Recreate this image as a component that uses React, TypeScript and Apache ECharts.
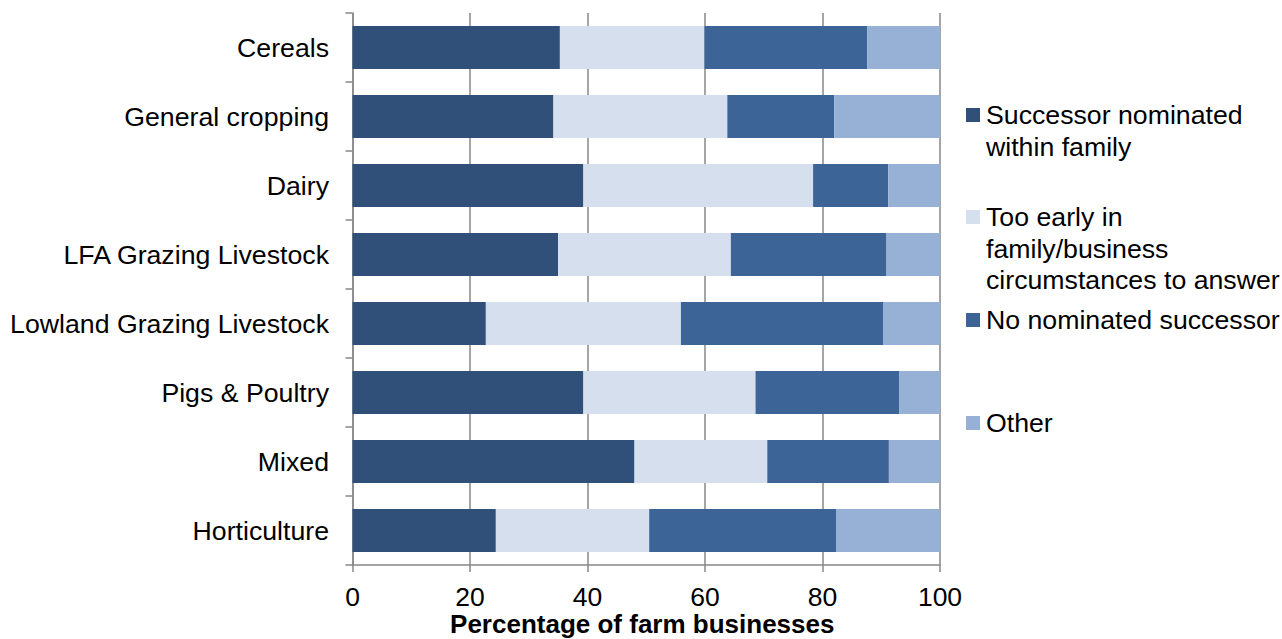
import React, { useEffect, useRef } from "react";
import * as echarts from "echarts";

// Farm types, listed top to bottom
const farmTypes = [
  "Cereals",
  "General cropping",
  "Dairy",
  "LFA Grazing Livestock",
  "Lowland Grazing Livestock",
  "Pigs & Poultry",
  "Mixed",
  "Horticulture",
];

// Succession status shares (% of farm businesses), one value per farm type
const successorInFamily = [35.3, 34.2, 39.3, 35.0, 22.7, 39.3, 48.0, 24.4];
const tooEarly = [24.6, 29.6, 39.1, 29.4, 33.2, 29.3, 22.6, 26.1];
const noSuccessor = [27.7, 18.2, 12.8, 26.5, 34.4, 24.5, 20.7, 31.8];
const other = [12.4, 18.0, 8.8, 9.1, 9.7, 6.9, 8.7, 17.7];

const seriesNames = [
  "Successor nominated within family",
  "Too early in family/business circumstances to answer",
  "No nominated successor",
  "Other",
];
const legendLabels = [
  "Successor nominated\nwithin family",
  "Too early in\nfamily/business\ncircumstances to answer",
  "No nominated successor",
  "Other",
];
const seriesValues = [successorInFamily, tooEarly, noSuccessor, other];
const colors = ["#30507A", "#D6DFED", "#3C6496", "#96B1D5"];

const xTicks = [0, 20, 40, 60, 80, 100];
const axisTitle = "Percentage of farm businesses";

const FONT = "'Liberation Sans', Arial, Helvetica, sans-serif";
const AXIS_GREY = "#878787";

// Legend layout: first-line centre of each entry
const legendFirstLineY = [115, 217, 320, 423];
const LEGEND_LINE_H = 31.5;

export default function App() {
  const ref = useRef<HTMLDivElement>(null);

  useEffect(() => {
    if (!ref.current) return;
    const chart = echarts.init(ref.current, undefined, { renderer: "svg" });

    const legendGraphics: any[] = [];
    legendLabels.forEach((label, i) => {
      const cy = legendFirstLineY[i];
      legendGraphics.push({
        type: "rect",
        shape: { x: 966, y: cy - 7, width: 14, height: 14 },
        style: { fill: colors[i] },
        silent: true,
      });
      legendGraphics.push({
        type: "text",
        x: 986,
        y: cy - LEGEND_LINE_H / 2,
        style: {
          text: label,
          fill: "#000",
          font: `26.7px ${FONT}`,
          lineHeight: LEGEND_LINE_H,
          verticalAlign: "top",
          align: "left",
        },
        silent: true,
      });
    });

    chart.setOption({
      animation: false,
      backgroundColor: "#fff",
      textStyle: { fontFamily: FONT },
      grid: {
        left: 352.5,
        width: 587.5,
        top: 13,
        height: 552,
        containLabel: false,
        outerBoundsMode: "none",
      },
      xAxis: {
        type: "value",
        min: xTicks[0],
        max: xTicks[xTicks.length - 1],
        interval: xTicks[1] - xTicks[0],
        name: axisTitle,
        nameLocation: "middle",
        nameGap: 46,
        nameMoveOverlap: false,
        nameTextStyle: {
          fontSize: 26,
          fontWeight: "bold",
          color: "#000",
          fontFamily: FONT,
          padding: [0, 8, 0, 0],
        },
        axisLine: { show: true, lineStyle: { color: AXIS_GREY, width: 1.5 } },
        axisTick: {
          show: true,
          inside: false,
          length: 7,
          lineStyle: { color: AXIS_GREY, width: 1.5 },
        },
        axisLabel: {
          fontSize: 26.5,
          color: "#000",
          margin: 18,
          fontFamily: FONT,
        },
        splitLine: {
          show: true,
          lineStyle: { color: AXIS_GREY, width: 1.5 },
        },
      },
      yAxis: {
        type: "category",
        data: farmTypes,
        inverse: true,
        axisLine: { show: true, lineStyle: { color: AXIS_GREY, width: 1.5 } },
        axisTick: {
          show: true,
          inside: false,
          length: 7,
          lineStyle: { color: AXIS_GREY, width: 1.5 },
        },
        axisLabel: {
          fontSize: 26.7,
          color: "#000",
          margin: 23.5,
          fontFamily: FONT,
        },
        splitLine: { show: false },
      },
      series: seriesNames.map((name, i) => ({
        name,
        type: "bar",
        stack: "total",
        data: seriesValues[i],
        barCategoryGap: "37.5%",
        itemStyle: { color: colors[i] },
        emphasis: { disabled: true },
      })),
      graphic: legendGraphics,
    });

    return () => chart.dispose();
  }, []);

  return (
    <div
      ref={ref}
      style={{ position: "fixed", left: 0, top: 0, width: 1282, height: 639 }}
    />
  );
}
